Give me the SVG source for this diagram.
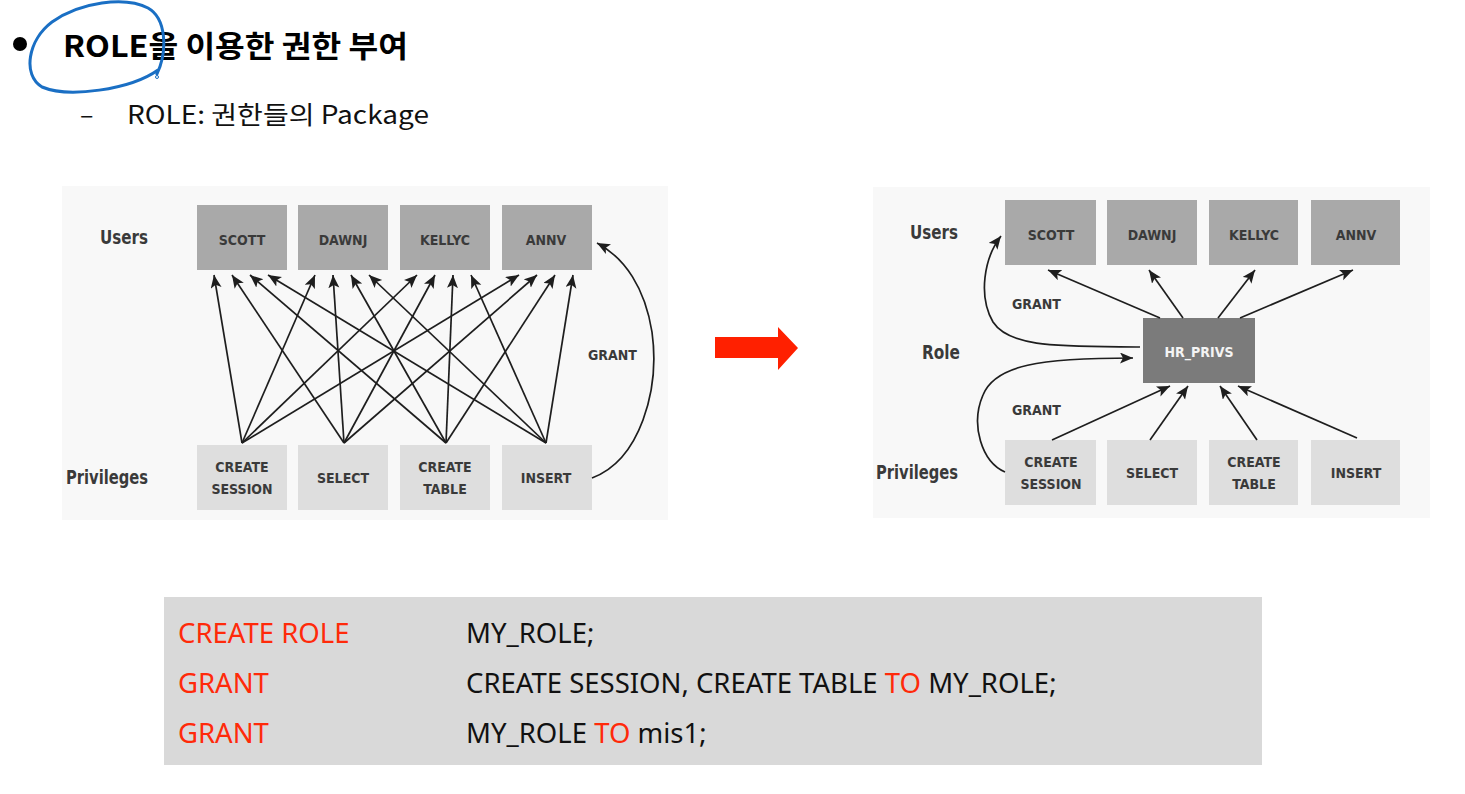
<svg xmlns="http://www.w3.org/2000/svg" width="1465" height="794" viewBox="0 0 1465 794">
<style>
.lbl{font-family:"DejaVu Sans Condensed","Liberation Sans Narrow","Roboto",sans-serif;font-weight:bold;fill:#3a3a3a;}
.side{font-size:20px;}
.box{font-size:14px;text-anchor:middle;}
.user{fill:#a9a9a9;}
.priv{fill:#dedede;}
.conn{fill:none;stroke:#1e1e1e;stroke-width:1.7;}
.code{font-family:"Noto Sans","Open Sans",sans-serif;font-size:27.5px;fill:#111;}
.red{fill:#ff2a0a;}
</style>
<defs>
<marker id="ah" markerUnits="userSpaceOnUse" markerWidth="16" markerHeight="12" refX="13" refY="5.5" orient="auto">
<path d="M0,0 L13,5.5 L0,11 L3,5.5 z" fill="#1e1e1e"/>
</marker>
</defs>
<rect width="1465" height="794" fill="#ffffff"/>

<g id="title">
<circle cx="20" cy="44" r="7" fill="#000"/>
<text x="63" y="57" font-family="Noto Sans CJK KR, sans-serif" font-weight="bold" font-size="30" fill="#000" textLength="345" lengthAdjust="spacingAndGlyphs">ROLE을 이용한 권한 부여</text>
<path d="M157,74 C168,50 166,18 148,8 C125,-4 80,2 52,22 C28,40 22,75 42,87 C68,98 130,90 158,70" fill="none" stroke="#1a6fc4" stroke-width="3" stroke-linecap="round"/>
<circle cx="157" cy="77" r="1.5" fill="none" stroke="#1a6fc4" stroke-width="1"/>
</g>
<g id="subtitle">
<text x="80" y="124" font-family="Noto Sans CJK KR, sans-serif" font-size="25" fill="#111">–</text>
<text x="127" y="124" font-family="Noto Sans CJK KR, sans-serif" font-size="25" fill="#111" textLength="302" lengthAdjust="spacingAndGlyphs">ROLE: 권한들의 Package</text>
</g>

<!-- LEFT DIAGRAM -->
<rect x="62" y="186" width="606" height="334" fill="#f8f8f8"/>
<g id="left-labels">
<text class="lbl side" x="100" y="244" textLength="48" lengthAdjust="spacingAndGlyphs">Users</text>
<text class="lbl side" x="66" y="484" textLength="82" lengthAdjust="spacingAndGlyphs">Privileges</text>
<text class="lbl" x="588" y="360" font-size="14">GRANT</text>
</g>
<g id="L-SCOTT"><rect class="user" x="197" y="205" width="90" height="65"/><text class="lbl box" x="242" y="245">SCOTT</text></g>
<g id="L-DAWNJ"><rect class="user" x="298" y="205" width="90" height="65"/><text class="lbl box" x="343" y="245">DAWNJ</text></g>
<g id="L-KELLYC"><rect class="user" x="400" y="205" width="90" height="65"/><text class="lbl box" x="445" y="245">KELLYC</text></g>
<g id="L-ANNV"><rect class="user" x="502" y="205" width="90" height="65"/><text class="lbl box" x="546" y="245">ANNV</text></g>
<g id="L-CS"><rect class="priv" x="197" y="445" width="90" height="65"/><text class="lbl box" x="242" y="472">CREATE</text><text class="lbl box" x="242" y="494">SESSION</text></g>
<g id="L-SEL"><rect class="priv" x="298" y="445" width="90" height="65"/><text class="lbl box" x="343" y="483">SELECT</text></g>
<g id="L-CT"><rect class="priv" x="400" y="445" width="90" height="65"/><text class="lbl box" x="445" y="472">CREATE</text><text class="lbl box" x="445" y="494">TABLE</text></g>
<g id="L-INS"><rect class="priv" x="502" y="445" width="90" height="65"/><text class="lbl box" x="546" y="483">INSERT</text></g>

<g id="left-connectors" class="conn" marker-end="url(#ah)">
<path d="M242,443 L214,275"/><path d="M242,443 L315,275"/><path d="M242,443 L417,275"/><path d="M242,443 L519,275"/>
<path d="M344,443 L232,275"/><path d="M344,443 L333,275"/><path d="M344,443 L435,275"/><path d="M344,443 L537,275"/>
<path d="M446,443 L250,275"/><path d="M446,443 L351,275"/><path d="M446,443 L453,275"/><path d="M446,443 L555,275"/>
<path d="M546,443 L268,275"/><path d="M546,443 L369,275"/><path d="M546,443 L471,275"/><path d="M546,443 L573,275"/>
<path d="M592,478 C640,460 660,390 652,332 C645,288 625,258 597,243"/>
</g>

<!-- RED ARROW -->
<g id="red-arrow">
<path d="M715,337 L778,337 L778,327 L798,348 L778,370 L778,358 L715,358 z" fill="#ff2000"/>
</g>

<!-- RIGHT DIAGRAM -->
<rect x="873" y="187" width="557" height="331" fill="#f8f8f8"/>
<g id="right-labels">
<text class="lbl side" x="910" y="239" textLength="48" lengthAdjust="spacingAndGlyphs">Users</text>
<text class="lbl side" x="922" y="359" textLength="38" lengthAdjust="spacingAndGlyphs">Role</text>
<text class="lbl side" x="876" y="479" textLength="82" lengthAdjust="spacingAndGlyphs">Privileges</text>
<text class="lbl" x="1012" y="309" font-size="14">GRANT</text>
<text class="lbl" x="1012" y="415" font-size="14">GRANT</text>
</g>
<g id="R-SCOTT"><rect class="user" x="1005" y="200" width="91" height="65"/><text class="lbl box" x="1051" y="240">SCOTT</text></g>
<g id="R-DAWNJ"><rect class="user" x="1107" y="200" width="90" height="65"/><text class="lbl box" x="1152" y="240">DAWNJ</text></g>
<g id="R-KELLYC"><rect class="user" x="1209" y="200" width="89" height="65"/><text class="lbl box" x="1254" y="240">KELLYC</text></g>
<g id="R-ANNV"><rect class="user" x="1311" y="200" width="89" height="65"/><text class="lbl box" x="1356" y="240">ANNV</text></g>
<g id="R-HR"><rect x="1143" y="318" width="112" height="65" fill="#7b7b7b"/><text class="lbl box" x="1199" y="357" style="fill:#f4f4f4">HR_PRIVS</text></g>
<g id="R-CS"><rect class="priv" x="1005" y="440" width="91" height="65"/><text class="lbl box" x="1051" y="467">CREATE</text><text class="lbl box" x="1051" y="489">SESSION</text></g>
<g id="R-SEL"><rect class="priv" x="1107" y="440" width="90" height="65"/><text class="lbl box" x="1152" y="478">SELECT</text></g>
<g id="R-CT"><rect class="priv" x="1209" y="440" width="89" height="65"/><text class="lbl box" x="1254" y="467">CREATE</text><text class="lbl box" x="1254" y="489">TABLE</text></g>
<g id="R-INS"><rect class="priv" x="1311" y="440" width="89" height="65"/><text class="lbl box" x="1356" y="478">INSERT</text></g>

<g id="right-connectors" class="conn" marker-end="url(#ah)">
<path d="M1160,318 L1048,270"/>
<path d="M1183,318 L1149,270"/>
<path d="M1218,318 L1255,270"/>
<path d="M1240,318 L1353,270"/>
<path d="M1052,440 L1170,386"/>
<path d="M1150,440 L1188,386"/>
<path d="M1257,440 L1220,386"/>
<path d="M1357,438 L1238,386"/>
<path d="M1140,347 C1060,346 1010,348 993,322 C978,296 984,258 1001,236"/>
<path d="M1005,472 C982,462 970,425 983,395 C995,365 1040,358 1133,358"/>
</g>

<!-- CODE BOX -->
<g id="code">
<rect x="164" y="597" width="1098" height="168" fill="#d9d9d9"/>
<text class="code red" x="178" y="643">CREATE ROLE</text>
<text class="code" x="466" y="643">MY_ROLE;</text>
<text class="code red" x="178" y="693">GRANT</text>
<text class="code" x="466" y="693">CREATE SESSION, CREATE TABLE <tspan class="red">TO</tspan> MY_ROLE;</text>
<text class="code red" x="178" y="743">GRANT</text>
<text class="code" x="466" y="743">MY_ROLE <tspan class="red">TO</tspan> mis1;</text>
</g>
</svg>
